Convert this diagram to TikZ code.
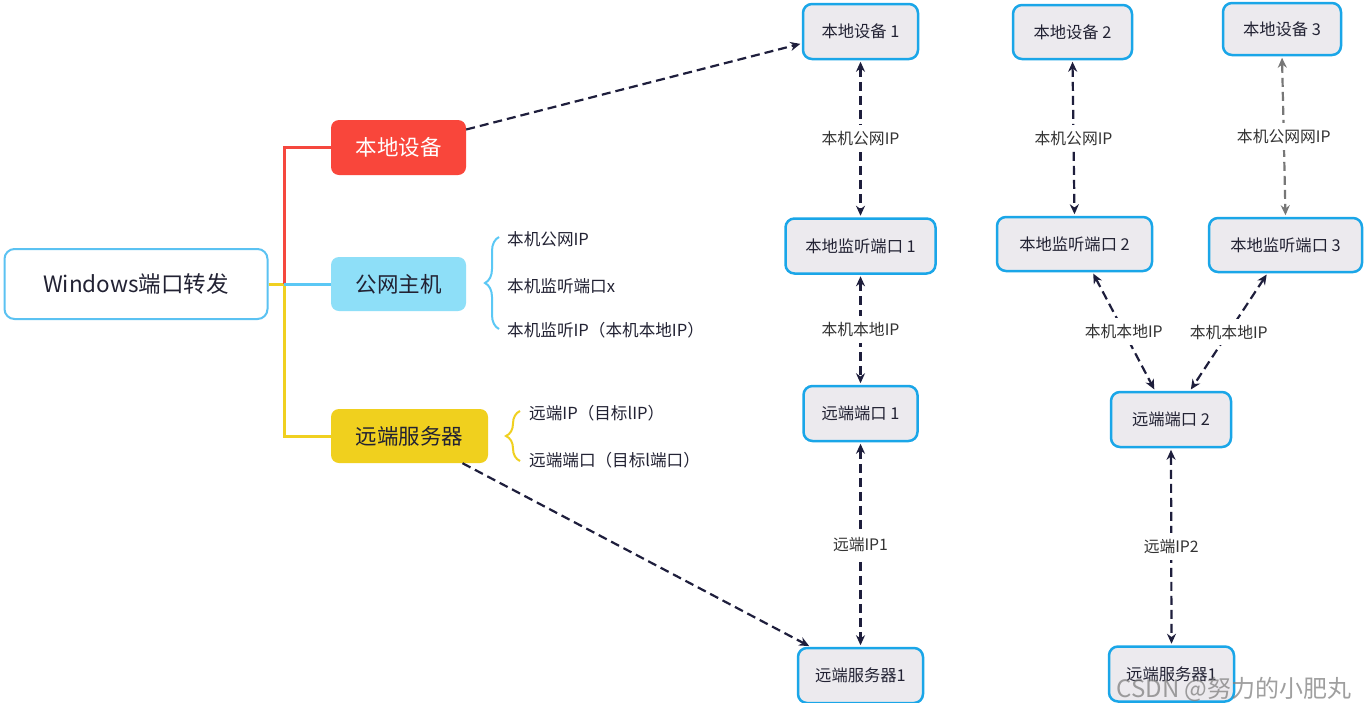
\documentclass[tikz,border=0pt]{standalone}
\usepackage{fontspec}
\setmainfont{Noto Sans CJK SC}
\usetikzlibrary{arrows.meta,decorations.pathreplacing,calc}
\definecolor{mred}{HTML}{F9463B}
\definecolor{mblue}{HTML}{8EDFF8}
\definecolor{myellow}{HTML}{F0D01E}
\definecolor{lred}{HTML}{F5473E}
\definecolor{lblue}{HTML}{5BC8F5}
\definecolor{lyellow}{HTML}{F0D020}
\definecolor{winblue}{HTML}{5BC2F2}
\definecolor{boxblue}{HTML}{1AA6E8}
\definecolor{boxfill}{HTML}{ECEAEE}
\definecolor{arrcol}{HTML}{1E1E3C}
\definecolor{graycol}{HTML}{777777}
\definecolor{textdark}{HTML}{222233}
\definecolor{labelcol}{HTML}{333333}
\tikzset{
  mm/.style={rounded corners=8pt, inner sep=0pt, font=\fontsize{21.5}{24}\selectfont},
  bx/.style={draw=boxblue, line width=2.5pt, fill=boxfill, rounded corners=9pt, inner sep=0pt,
    font=\fontsize{16.3}{19}\selectfont, text=textdark},
  arr/.style={draw=arrcol, line width=2.2pt, dash pattern=on 9pt off 5pt,
    {Stealth[length=10pt,width=9pt]}-{Stealth[length=10pt,width=9pt]},
    shorten >=1.5pt, shorten <=1.5pt},
  onearr/.style={draw=arrcol, line width=2.2pt, dash pattern=on 9pt off 5pt,
    -{Stealth[length=10pt,width=9pt]}, shorten >=1.5pt},
  lbl/.style={fill=white, inner xsep=2pt, inner ysep=6pt, font=\fontsize{15.8}{18}\selectfont, text=labelcol},
  side/.style={anchor=west, inner sep=0pt, font=\fontsize{16.6}{19}\selectfont, text=textdark},
  brc/.style={decorate, decoration={brace, amplitude=14pt}, line width=2pt},
  mline/.style={line width=3pt}
}
\begin{document}
\begin{tikzpicture}[x=1pt,y=-1pt]
\fill[white] (0,0) rectangle (1364,702);
\useasboundingbox (0,0) rectangle (1364,702);

% mind map
\node[draw=winblue, line width=2pt, fill=white, rounded corners=10pt, minimum width=263pt, minimum height=70pt,
  inner sep=0pt, font=\fontsize{22.5}{26}\selectfont, text=textdark] (win) at (136,284) {Windows端口转发};
\node[mm, fill=mred, text=white, minimum width=135pt, minimum height=55pt] (red) at (398.5,147.5) {本地设备};
\node[mm, fill=mblue, text=textdark, minimum width=135pt, minimum height=54pt] (blue) at (398.5,284) {公网主机};
\node[mm, fill=myellow, text=textdark, minimum width=157pt, minimum height=54pt] (yel) at (409.5,436) {远端服务器};
\coordinate (j) at (284,284);
\draw[mline, lyellow] (win.east) -- (j);
\draw[mline, lyellow] (j) |- (yel.west);
\draw[mline, lred] (j) |- (red.west);
\draw[mline, lblue] (j) -- (blue.west);

% braces and side texts
\coordinate (b1a) at (499,329);
\coordinate (b1b) at (499,237);
\draw[brc, lblue] (b1a) -- (b1b);
\node[side] (t1) at (507,239) {本机公网IP};
\node[side] (t2) at (507,286) {本机监听端口x};
\node[side] (t3) at (507,330) {本机监听IP（本机本地IP）};
\coordinate (b2a) at (520,461);
\coordinate (b2b) at (520,411);
\draw[brc, lyellow] (b2a) -- (b2b);
\node[side] (t4) at (529,413) {远端IP（目标lIP）};
\node[side] (t5) at (529,460) {远端端口（目标l端口）};

% right boxes
\node[bx, minimum width=115pt, minimum height=55pt] (d1) at (860.5,31.5) {本地设备 1};
\node[bx, minimum width=150pt, minimum height=55pt] (m1) at (860.5,246) {本地监听端口 1};
\node[bx, minimum width=114pt, minimum height=55pt] (r1) at (860.5,413.5) {远端端口 1};
\node[bx, minimum width=125pt, minimum height=55pt] (s1) at (860.5,675.5) {远端服务器1};
\node[bx, minimum width=119pt, minimum height=54pt] (d2) at (1072.5,32) {本地设备 2};
\node[bx, minimum width=155pt, minimum height=54pt] (m2) at (1074.5,244) {本地监听端口 2};
\node[bx, minimum width=118pt, minimum height=52pt] (d3) at (1282,29) {本地设备 3};
\node[bx, minimum width=153pt, minimum height=54pt] (m3) at (1285.5,245) {本地监听端口 3};
\node[bx, minimum width=120pt, minimum height=55pt] (r2) at (1171,419.5) {远端端口 2};
\node[bx, minimum width=125pt, minimum height=55pt] (s2) at (1171.5,674) {远端服务器1};

% arrows
\draw[arr] (d1.south) -- node[lbl] {本机公网IP} (m1.north);
\draw[arr] (m1.south) -- node[lbl] {本机本地IP} (r1.north);
\draw[arr] (r1.south) -- node[lbl] {远端IP1} (s1.north);
\draw[arr] (d2.south) -- node[lbl] {本机公网IP} (m2.north);
\draw[arr, draw=graycol] (d3.south) -- node[lbl] {本机公网网IP} (m3.north);
\draw[arr] ([xshift=18pt]m2.south) -- node[lbl] {本机本地IP} ([xshift=-16pt]r2.north);
\draw[arr] ([xshift=-18pt]m3.south) -- node[lbl] {本机本地IP} ([xshift=19pt]r2.north);
\draw[arr] (r2.south) -- node[lbl] {远端IP2} (s2.north);
\draw[onearr] ([yshift=18pt]red.east) -- ([yshift=-12pt]d1.west);
\draw[onearr] ([xshift=53pt]yel.south) -- ([xshift=-50pt]s1.north);

% watermark
\node[text=gray, opacity=0.75, font=\fontsize{24}{28}\selectfont, inner sep=0pt] (wm) at (1234,689) {CSDN @努力的小肥丸};
\end{tikzpicture}
\end{document}
